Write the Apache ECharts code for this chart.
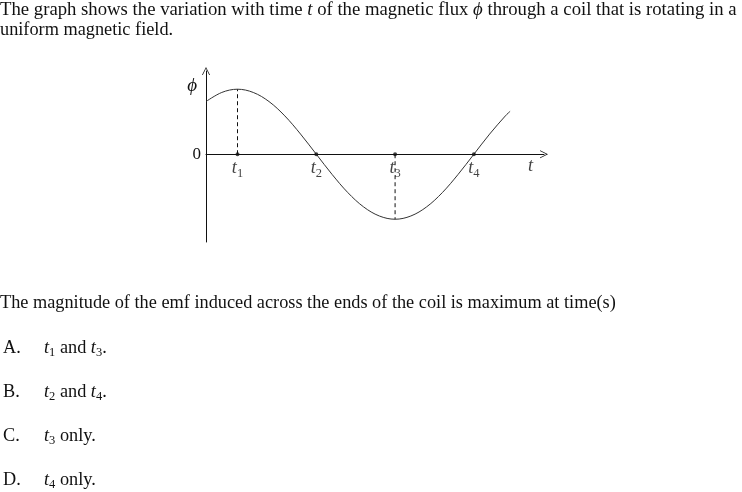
<!DOCTYPE html>
<html>
<head>
<meta charset="utf-8">
<script src="https://cdn.jsdelivr.net/npm/echarts@6/dist/echarts.min.js"></script>
<style>
html,body{margin:0;padding:0;background:#fff;}
#chart{width:742px;height:492px;}
</style>
</head>
<body>
<div id="chart"></div>
<script>
// Curve (time in units where t1=1 ... t4=4, flux in units of peak)
const tValues   = [0.6, 0.8, 1.0, 1.2, 1.4, 1.6, 1.8, 2.0, 2.2, 2.4, 2.6, 2.8, 3.0, 3.2, 3.4, 3.6, 3.8, 4.0, 4.2, 4.4, 4.46];
const phiValues = [0.81, 0.95, 1.0, 0.95, 0.81, 0.59, 0.31, 0.0, -0.31, -0.59, -0.81, -0.95, -1.0, -0.95, -0.81, -0.59, -0.31, 0.0, 0.31, 0.59, 0.66];
// Marked times on the axis
const markTimes  = [1, 2, 3, 4];
const markLabels = ['1', '2', '3', '4'];
// Dashed drop lines (time, flux at that time)
const dropTimes  = [1, 3];
const dropValues = [1, -1];
// Axis label positions
const tAxisLabelPos = 4.72;
const yTickLabels = [0];

const chart = echarts.init(document.getElementById('chart'), null, {renderer: 'canvas'});
const serif = '"Liberation Serif", "DejaVu Serif", serif';
const arrowPath = 'path://M0,10 L5,0 L10,10 L9,10 L5,2 L1,10 Z';
const FS = 18.3;
const LH = 20;
const ink = '#111';

const curveData = tValues.map((t, i) => [t, phiValues[i]]);
const dropSeries = dropTimes.map((t, i) => ({
  type: 'line',
  data: [[t, 0], [t, dropValues[i]]],
  symbol: 'none',
  silent: true,
  lineStyle: {color: ink, width: 1, type: [4, 3]},
  z: 2
}));

const subRich = {
  i: {fontFamily: serif, fontStyle: 'italic', fontSize: FS, color: ink, lineHeight: LH},
  s: {fontFamily: serif, fontSize: 12.5, color: ink, lineHeight: LH, padding: [10, 0, 0, 0]}
};
const plain = {fontFamily: serif, fontSize: FS, lineHeight: LH, fill: ink};

const option = {
  animation: false,
  backgroundColor: '#fff',
  grid: {left: 206, top: 71, width: 338, height: 171, containLabel: false},
  xAxis: {
    type: 'value', min: 0.6, max: 4.89,
    axisLine: {show: true, onZero: true, symbol: ['none', arrowPath], symbolSize: [10, 8], lineStyle: {color: ink, width: 1}},
    axisTick: {show: false}, axisLabel: {show: false}, splitLine: {show: false}
  },
  yAxis: {
    type: 'value', min: -1.35, max: 1.28,
    name: 'ϕ', nameLocation: 'end', nameGap: -24,
    nameTextStyle: {fontFamily: serif, fontStyle: 'italic', fontSize: 19, color: ink, align: 'right', padding: [0, 9, 0, 0]},
    axisLine: {show: true, symbol: ['none', arrowPath], symbolSize: [10, 8], lineStyle: {color: ink, width: 1}},
    axisTick: {show: false},
    axisLabel: {show: true, customValues: yTickLabels, margin: 5, fontFamily: serif, fontSize: 17, color: ink},
    splitLine: {show: false}
  },
  series: [
    {
      type: 'line', data: curveData, smooth: 0.35, symbol: 'none', silent: true,
      lineStyle: {color: '#333', width: 1}, z: 3
    },
    ...dropSeries,
    {
      type: 'scatter', data: markTimes.map((t, i) => ({value: [t, 0], sub: markLabels[i]})),
      symbolSize: 4, itemStyle: {color: ink}, z: 5, silent: true,
      label: {
        show: true, position: 'bottom', distance: 2,
        formatter: p => '{i|t}{s|' + p.data.sub + '}',
        rich: subRich
      }
    },
    {
      type: 'scatter', data: [[tAxisLabelPos, 0]], symbolSize: 0, silent: true,
      label: {show: true, position: 'bottom', distance: 2, formatter: '{i|t}', rich: subRich}
    }
  ],
  graphic: [
    {type: 'text', x: 0, y: 0.5, scaleX: 1.024, style: Object.assign({
      text: 'The graph shows the variation with time {i|t} of the magnetic flux {i|ϕ} through a coil that is rotating in a',
      rich: {i: {fontFamily: serif, fontStyle: 'italic', fontSize: FS, lineHeight: LH, color: ink}}
    }, plain)},
    {type: 'text', x: 0, y: 20.5, style: Object.assign({text: 'uniform magnetic field.'}, plain)},
    {type: 'text', x: 0, y: 293.5, style: Object.assign({
      text: 'The magnitude of the emf induced across the ends of the coil is maximum at time(s)'
    }, plain)},
    {type: 'text', x: 3, y: 338, style: Object.assign({text: 'A.'}, plain)},
    {type: 'text', x: 44, y: 338, style: Object.assign({text: '{i|t}{s|1} and {i|t}{s|3}.', rich: subRich}, plain)},
    {type: 'text', x: 3, y: 382, style: Object.assign({text: 'B.'}, plain)},
    {type: 'text', x: 44, y: 382, style: Object.assign({text: '{i|t}{s|2} and {i|t}{s|4}.', rich: subRich}, plain)},
    {type: 'text', x: 3, y: 426, style: Object.assign({text: 'C.'}, plain)},
    {type: 'text', x: 44, y: 426, style: Object.assign({text: '{i|t}{s|3} only.', rich: subRich}, plain)},
    {type: 'text', x: 3, y: 470, style: Object.assign({text: 'D.'}, plain)},
    {type: 'text', x: 44, y: 470, style: Object.assign({text: '{i|t}{s|4} only.', rich: subRich}, plain)}
  ]
};
chart.setOption(option);
</script>
</body>
</html>
